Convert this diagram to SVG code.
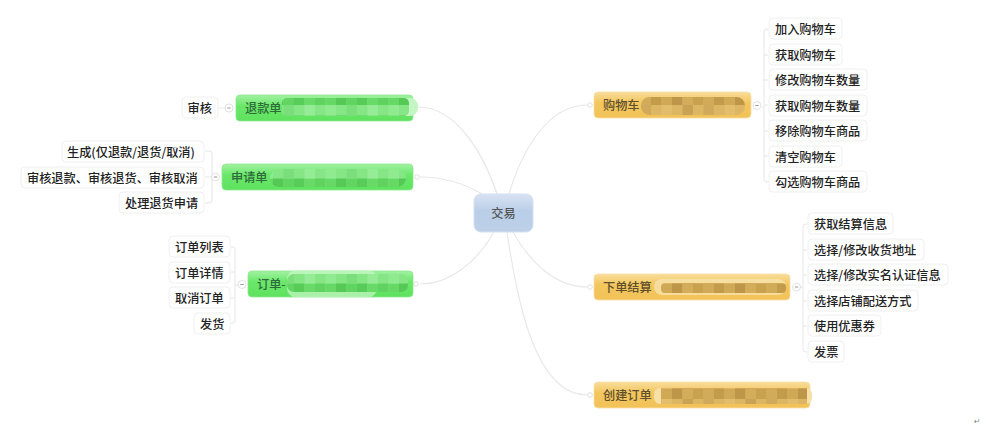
<svg xmlns="http://www.w3.org/2000/svg" width="1000" height="434" viewBox="0 0 1000 434">
<style>
text{font-family:"Noto Sans CJK SC","Liberation Sans",sans-serif;font-weight:500;}
.leaf rect{fill:#fff;stroke:#f0f0f0;stroke-width:1;}
.leaf text{font-size:12.2px;fill:#222;text-anchor:start;}
.main text{font-size:12.2px;}
.g text{fill:#2f6b3a;}
.o text{fill:#5f4f2c;}
.g>rect.b{fill:url(#gg);stroke:#8ee88e;stroke-width:.8;}
.o>rect.b{fill:url(#og);stroke:#f8e0a8;stroke-width:.8;}
.line{fill:none;stroke:#e8e8e8;stroke-width:1.2;}
.tick{fill:none;stroke:#e6e6e6;stroke-width:1;}
.knob{fill:#fff;stroke:#ddd;stroke-width:.9;}
.dash{stroke:#999;stroke-width:1;}
.soft{filter:url(#s);}
</style>
<defs>
<linearGradient id="gg" x1="0" y1="0" x2="0" y2="1"><stop offset="0" stop-color="#a2f2a2"/><stop offset=".42" stop-color="#6ae76a"/><stop offset="1" stop-color="#5fe25f"/></linearGradient>
<linearGradient id="og" x1="0" y1="0" x2="0" y2="1"><stop offset="0" stop-color="#f9dd9a"/><stop offset=".42" stop-color="#f3c65e"/><stop offset="1" stop-color="#f2c258"/></linearGradient>
<linearGradient id="bg" x1="0" y1="0" x2="0" y2="1"><stop offset="0" stop-color="#d8e3f2"/><stop offset=".45" stop-color="#bacee7"/><stop offset="1" stop-color="#bdd0e8"/></linearGradient>
<pattern id="mg" patternUnits="userSpaceOnUse" width="63" height="21" y="0">
<rect width="63" height="21" fill="#86e686"/>
<rect x="0" y="10.500" width="10.500" height="10.500" fill="#5ed25e"/><rect x="10.500" y="10.500" width="10.500" height="10.500" fill="#66d866"/><rect x="21" y="10.500" width="10.500" height="10.500" fill="#56c856"/><rect x="31.500" y="10.500" width="10.500" height="10.500" fill="#62d462"/><rect x="42" y="10.500" width="10.500" height="10.500" fill="#58cc58"/><rect x="52.500" y="10.500" width="10.500" height="10.500" fill="#68da68"/>
<rect x="10.500" y="0" width="10.500" height="10.500" fill="#90ea90"/><rect x="31.500" y="0" width="10.500" height="10.500" fill="#7ade7a"/><rect x="52.500" y="0" width="10.500" height="10.500" fill="#96ec96"/>
</pattern>
<pattern id="mo" patternUnits="userSpaceOnUse" width="63" height="21" y="0">
<rect width="63" height="21" fill="#dcb664"/>
<rect x="0" y="10.500" width="10.500" height="10.500" fill="#c9a250"/><rect x="10.500" y="10.500" width="10.500" height="10.500" fill="#d2ab58"/><rect x="21" y="10.500" width="10.500" height="10.500" fill="#c39c4c"/><rect x="31.500" y="10.500" width="10.500" height="10.500" fill="#d0a956"/><rect x="42" y="10.500" width="10.500" height="10.500" fill="#bd964a"/><rect x="52.500" y="10.500" width="10.500" height="10.500" fill="#d4ad5a"/>
<rect x="10.500" y="0" width="10.500" height="10.500" fill="#d0aa5a"/><rect x="31.500" y="0" width="10.500" height="10.500" fill="#e2bd6c"/><rect x="52.500" y="0" width="10.500" height="10.500" fill="#c8a254"/>
</pattern>
<filter id="s" x="-5%" y="-20%" width="110%" height="140%"><feGaussianBlur stdDeviation=".7"/></filter>
</defs>
<rect width="1000" height="434" fill="#fff"/>

<g id="connectors">
<path class="line" d="M497 194C482 150 455 107 418 107"/>
<path class="line" d="M482 194C465 184 445 177 420 177"/>
<path class="line" d="M494 232C477 262 450 284 420 284"/>
<path class="line" d="M509 194C522 150 548 105 587 105"/>
<path class="line" d="M513 232C530 262 555 287 587 287"/>
<path class="line" d="M507 232C517 300 535 395 587 395"/>
<path class="tick" d="M218 108H229"/>
<path class="tick" d="M205 151H209Q212 151 212 154V200Q212 203 209 203H205M205 177H217"/>
<path class="tick" d="M231 247H233Q235 247 235 249V321Q235 323 233 323H231M231 272H235M231 298H235M235 285H239"/>
<path class="tick" d="M768 29H767Q764 29 764 32V179Q764 182 767 182H768M764 55H768M764 80H768M764 105H768M764 131H768M764 156H768M762 107H764"/>
<path class="tick" d="M807 224H806Q803 224 803 227V349Q803 352 806 352H807M803 250H807M803 275H807M803 301H807M803 326H807M801 287H803"/>
<circle class="knob" cx="417" cy="177" r="2.300"/>
<circle class="knob" cx="416" cy="284" r="2.300"/>
<circle class="knob" cx="590" cy="105" r="2.300"/>
<circle class="knob" cx="590" cy="287" r="2.300"/>
<circle class="knob" cx="590" cy="395" r="2.300"/>
<circle class="knob" cx="229" cy="108" r="4"/><path class="dash" d="M227.300 108H230.700"/>
<circle class="knob" cx="215.500" cy="177" r="4"/><path class="dash" d="M213.800 177H217.200"/>
<circle class="knob" cx="242" cy="284.500" r="4"/><path class="dash" d="M240.300 284.500H243.700"/>
<circle class="knob" cx="757" cy="105.500" r="4"/><path class="dash" d="M755.300 105.500H758.700"/>
<circle class="knob" cx="796.500" cy="287" r="4"/><path class="dash" d="M794.800 287H798.200"/>
</g>

<g id="center" class="main"><rect x="474" y="194" width="59" height="38" rx="7" fill="url(#bg)" stroke="#d4e0f0"/><text x="503.500" y="218" text-anchor="middle" fill="#555">交易</text></g>

<g id="refund" class="main g"><rect class="b" x="236" y="95" width="177" height="26" rx="4"/><text x="245" y="112.500">退款单</text>
<g class="soft"><rect x="282" y="98" width="136" height="18" rx="8" fill="#c4f5c4"/><rect x="282" y="98" width="127" height="18" rx="5" fill="url(#mg)"/></g></g>

<g id="apply" class="main g"><rect class="b" x="222" y="164" width="191" height="26" rx="4"/><text x="231" y="182">申请单</text>
<g class="soft"><rect x="270" y="169" width="136" height="18" rx="9" fill="url(#mg)"/></g></g>

<g id="order" class="main g"><rect class="b" x="248" y="271" width="165" height="26" rx="4"/><text x="257" y="289">订单-</text>
<g class="soft"><rect x="287" y="270" width="90" height="27.500" rx="9" fill="#c8f6c8" opacity=".7"/><rect x="287" y="274" width="121" height="18" rx="7" fill="url(#mg)"/></g></g>

<g id="cart" class="main o"><rect class="b" x="594" y="92" width="157" height="26" rx="4"/><text x="603" y="110">购物车</text>
<g class="soft"><rect x="641" y="97" width="104" height="18" rx="8.500" fill="url(#mo)"/></g></g>

<g id="checkout" class="main o"><rect class="b" x="594" y="274" width="196" height="26" rx="4"/><text x="603" y="292">下单结算</text>
<g class="soft"><rect x="654" y="279" width="132" height="16" rx="8" fill="#f8e3ac" opacity=".8"/><rect x="661" y="283" width="125" height="10" rx="4" fill="url(#mo)"/></g></g>

<g id="create" class="main o"><rect class="b" x="594" y="382" width="216" height="26" rx="4"/><text x="603" y="400">创建订单</text>
<g class="soft"><rect x="654" y="388" width="158" height="16" rx="6" fill="#f6e0a8"/><rect x="661" y="388" width="146" height="16" fill="url(#mo)"/></g></g>

<g id="leaf-shenhe" class="leaf"><rect x="182" y="97" width="36" height="21" rx="4"/><text x="187.500" y="112.500">审核</text></g>
<g id="leaf-a1" class="leaf"><rect x="62" y="141" width="142" height="21" rx="4"/><text x="67" y="156.500">生成(仅退款/退货/取消)</text></g>
<g id="leaf-a2" class="leaf"><rect x="21" y="167" width="183" height="21" rx="4"/><text x="27" y="182.500">审核退款、审核退货、审核取消</text></g>
<g id="leaf-a3" class="leaf"><rect x="119" y="192" width="85" height="21" rx="4"/><text x="125" y="208">处理退货申请</text></g>
<g id="leaf-o1" class="leaf"><rect x="169" y="236" width="61" height="21" rx="4"/><text x="175" y="251.500">订单列表</text></g>
<g id="leaf-o2" class="leaf"><rect x="169" y="262" width="61" height="21" rx="4"/><text x="175" y="277.500">订单详情</text></g>
<g id="leaf-o3" class="leaf"><rect x="169" y="287" width="61" height="21" rx="4"/><text x="175" y="302.500">取消订单</text></g>
<g id="leaf-o4" class="leaf"><rect x="194" y="313" width="36" height="21" rx="4"/><text x="200" y="328.500">发货</text></g>

<g id="leaf-c1" class="leaf"><rect x="769" y="18" width="73" height="21" rx="4"/><text x="775" y="34">加入购物车</text></g>
<g id="leaf-c2" class="leaf"><rect x="769" y="44" width="73" height="21" rx="4"/><text x="775" y="59.500">获取购物车</text></g>
<g id="leaf-c3" class="leaf"><rect x="769" y="69" width="98" height="21" rx="4"/><text x="775" y="85">修改购物车数量</text></g>
<g id="leaf-c4" class="leaf"><rect x="769" y="95" width="98" height="21" rx="4"/><text x="775" y="110.500">获取购物车数量</text></g>
<g id="leaf-c5" class="leaf"><rect x="769" y="120" width="98" height="21" rx="4"/><text x="775" y="136">移除购物车商品</text></g>
<g id="leaf-c6" class="leaf"><rect x="769" y="146" width="73" height="21" rx="4"/><text x="775" y="161.500">清空购物车</text></g>
<g id="leaf-c7" class="leaf"><rect x="769" y="171" width="98" height="21" rx="4"/><text x="775" y="187">勾选购物车商品</text></g>

<g id="leaf-k1" class="leaf"><rect x="808" y="213" width="85" height="21" rx="4"/><text x="814" y="229">获取结算信息</text></g>
<g id="leaf-k2" class="leaf"><rect x="808" y="239" width="116" height="21" rx="4"/><text x="814" y="255">选择/修改收货地址</text></g>
<g id="leaf-k3" class="leaf"><rect x="808" y="264" width="140" height="21" rx="4"/><text x="814" y="280">选择/修改实名认证信息</text></g>
<g id="leaf-k4" class="leaf"><rect x="808" y="290" width="110" height="21" rx="4"/><text x="814" y="306">选择店铺配送方式</text></g>
<g id="leaf-k5" class="leaf"><rect x="808" y="315" width="73" height="21" rx="4"/><text x="814" y="331">使用优惠券</text></g>
<g id="leaf-k6" class="leaf"><rect x="808" y="341" width="36" height="21" rx="4"/><text x="814" y="357">发票</text></g>

<text x="974" y="424" font-size="8" fill="#888" style="font-family:'DejaVu Sans',sans-serif">↵</text>
</svg>
